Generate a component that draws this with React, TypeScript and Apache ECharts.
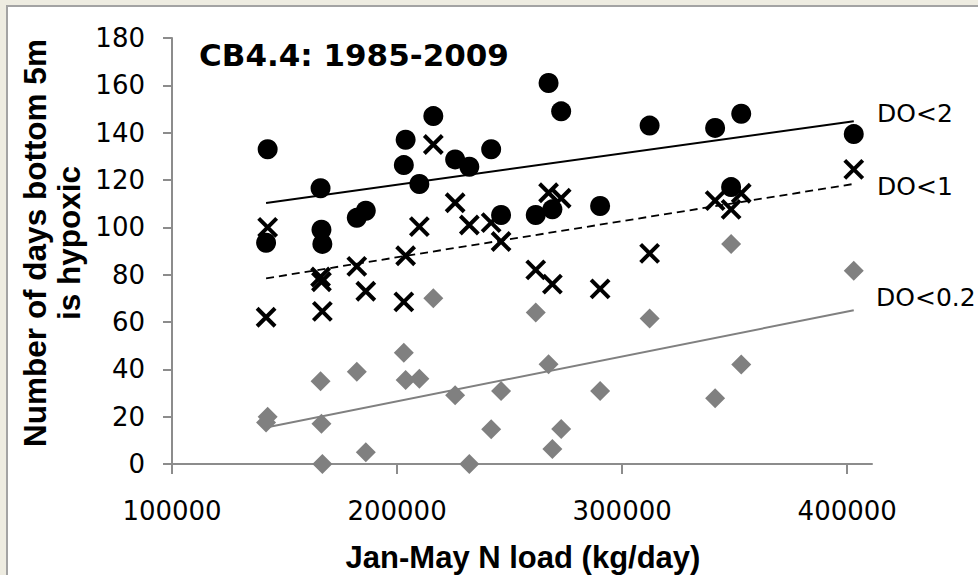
import React, { useEffect, useRef } from "react";
import * as echarts from "echarts";

// Jan-May N load (kg/day), one entry per year 1985-2009
const nLoad = [
  142500, 141800, 166000, 166400, 166800, 182100, 186100, 203800, 203000, 209900,
  216100, 225800, 232100, 241800, 246200, 261600, 267300, 269000, 272900, 290200,
  312200, 341300, 348400, 352900, 402900,
];
// Number of days bottom 5m is hypoxic
const daysDO2 = [
  133, 93.5, 116.5, 99, 93, 104, 107, 137, 126.3, 118.3,
  147, 128.7, 125.6, 133, 105.2, 105.2, 161, 107.6, 149, 109,
  143, 142, 117, 148, 139.4,
];
const daysDO1 = [
  100, 62, 79, 77, 64.5, 83.5, 73, 88, 68.5, 100.3,
  135, 110.4, 101, 102, 94, 82, 114.6, 76, 112.3, 74,
  89, 111.3, 107.6, 114.4, 124.5,
];
const daysDO02 = [
  20, 17.5, 35, 17, 0, 39, 5, 35.5, 47, 36,
  70, 29, 0, 14.7, 30.8, 64, 42.1, 6.3, 14.8, 30.8,
  61.5, 27.8, 93, 42, 81.7,
];
const xTickValues = [100000, 200000, 300000, 400000];
const seriesLabels = ["DO<2", "DO<1", "DO<0.2"];
const chartTitle = "CB4.4: 1985-2009";
const yTitle = "Number of days bottom 5m\nis hypoxic";
const xTitle = "Jan-May N load (kg/day)";

function linearFit(xs: number[], ys: number[]): number[][] {
  const n = xs.length;
  const mx = xs.reduce((a, b) => a + b, 0) / n;
  const my = ys.reduce((a, b) => a + b, 0) / n;
  let sxy = 0;
  let sxx = 0;
  for (let i = 0; i < n; i++) {
    sxy += (xs[i] - mx) * (ys[i] - my);
    sxx += (xs[i] - mx) * (xs[i] - mx);
  }
  const b = sxy / sxx;
  const a = my - b * mx;
  const x0 = Math.min(...xs);
  const x1 = Math.max(...xs);
  return [
    [x0, a + b * x0],
    [x1, a + b * x1],
  ];
}

const pairs = (ys: number[]) => nLoad.map((x, i) => [x, ys[i]]);

export default function App() {
  const ref = useRef<HTMLDivElement>(null);
  useEffect(() => {
    if (!ref.current) return;
    const chart = echarts.init(ref.current, undefined, { renderer: "svg" });
    const gray = "#808080";
    const axisGray = "#8C8C8C";
    const labelFont = "DejaVu Sans";
    chart.setOption({
      animation: false,
      backgroundColor: "#EEECE1",
      grid: { left: 172, right: 106, top: 38, bottom: 111, containLabel: false },
      xAxis: {
        type: "value",
        min: 100000,
        max: 411000,
        interval: 100000,
        splitLine: { show: false },
        axisLine: { show: true, onZero: false, lineStyle: { color: axisGray, width: 2 } },
        axisTick: {
          show: true,
          length: 10,
          inside: false,
          customValues: xTickValues,
          lineStyle: { color: axisGray, width: 2 },
        },
        axisLabel: {
          customValues: xTickValues,
          margin: 34,
          color: "#000",
          fontFamily: labelFont,
          fontSize: 26,
          formatter: (v: number) => String(v),
        },
      },
      yAxis: {
        type: "value",
        min: 0,
        max: 180,
        interval: 20,
        splitLine: { show: false },
        axisLine: { show: true, lineStyle: { color: axisGray, width: 2 } },
        axisTick: { show: true, length: 9, lineStyle: { color: axisGray, width: 2 } },
        axisLabel: { margin: 27, color: "#000", fontFamily: labelFont, fontSize: 26 },
      },
      series: [
        {
          name: seriesLabels[0],
          type: "scatter",
          data: pairs(daysDO2),
          symbol: "circle",
          symbolSize: 20,
          itemStyle: { color: "#000", opacity: 1 },
          silent: true,
          z: 3,
        },
        {
          name: seriesLabels[1],
          type: "scatter",
          data: pairs(daysDO1),
          symbol: "path://M0,0L10,10M10,0L0,10",
          symbolSize: 18,
          itemStyle: { color: "rgba(0,0,0,0)", borderColor: "#000", borderWidth: 4, opacity: 1 },
          silent: true,
          z: 4,
        },
        {
          name: seriesLabels[2],
          type: "scatter",
          data: pairs(daysDO02),
          symbol: "diamond",
          symbolSize: 20,
          itemStyle: { color: gray, opacity: 1 },
          silent: true,
          z: 5,
        },
        {
          type: "line",
          data: linearFit(nLoad, daysDO2),
          symbol: "none",
          lineStyle: { color: "#000", width: 2 },
          silent: true,
          z: 6,
        },
        {
          type: "line",
          data: linearFit(nLoad, daysDO1),
          symbol: "none",
          lineStyle: { color: "#000", width: 1.8, type: [8, 5] },
          silent: true,
          z: 6,
        },
        {
          type: "line",
          data: linearFit(nLoad, daysDO02),
          symbol: "none",
          lineStyle: { color: gray, width: 2 },
          silent: true,
          z: 6,
        },
      ],
      graphic: [
        {
          type: "rect",
          z: -100,
          shape: { x: 7, y: 6, width: 1000, height: 600 },
          style: { fill: "#FFFFFF", stroke: "#A3A3A3", lineWidth: 2 },
          silent: true,
        },
        {
          type: "text",
          x: 199,
          y: 55,
          style: {
            text: chartTitle,
            fontFamily: "DejaVu Sans",
            fontWeight: "bold",
            fontSize: 31,
            fill: "#000",
            align: "left",
            verticalAlign: "middle",
          },
        },
        {
          type: "text",
          x: 52,
          y: 243,
          rotation: Math.PI / 2,
          style: {
            text: yTitle,
            fontFamily: "Liberation Sans",
            fontWeight: "bold",
            fontSize: 31.5,
            lineHeight: 34,
            fill: "#000",
            align: "center",
            verticalAlign: "middle",
          },
        },
        {
          type: "text",
          x: 523,
          y: 557,
          style: {
            text: xTitle,
            fontFamily: "Liberation Sans",
            fontWeight: "bold",
            fontSize: 31,
            fill: "#000",
            align: "center",
            verticalAlign: "middle",
          },
        },
        {
          type: "text",
          x: 877,
          y: 113,
          style: { text: seriesLabels[0], fontFamily: labelFont, fontSize: 25, fill: "#000", align: "left", verticalAlign: "middle" },
        },
        {
          type: "text",
          x: 877,
          y: 186,
          style: { text: seriesLabels[1], fontFamily: labelFont, fontSize: 25, fill: "#000", align: "left", verticalAlign: "middle" },
        },
        {
          type: "text",
          x: 876,
          y: 297,
          style: { text: seriesLabels[2], fontFamily: labelFont, fontSize: 25, fill: "#000", align: "left", verticalAlign: "middle" },
        },
      ],
    });
    return () => chart.dispose();
  }, []);
  return (
    <div
      ref={ref}
      style={{ position: "absolute", left: 0, top: 0, width: 978, height: 575 }}
    />
  );
}
